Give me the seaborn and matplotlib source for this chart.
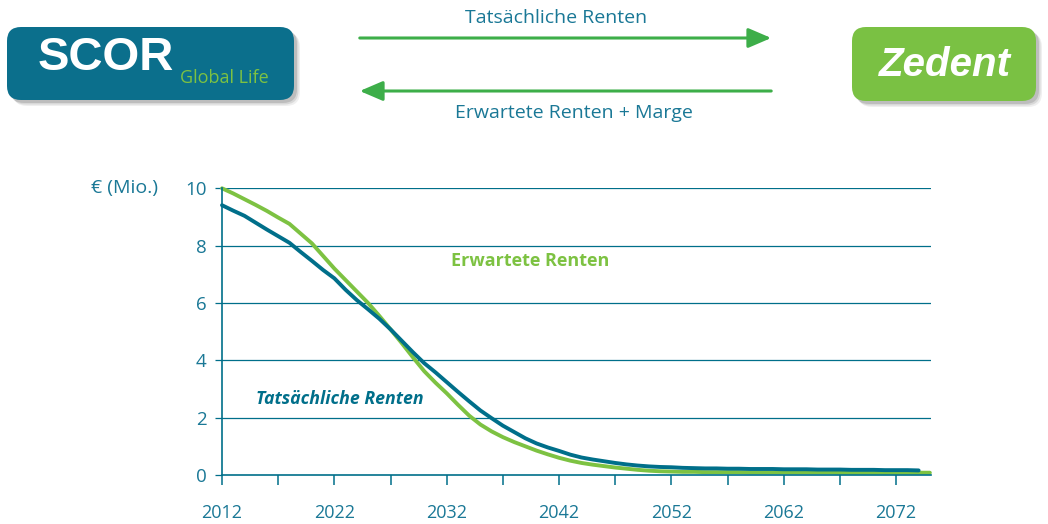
import numpy as np
import pandas as pd
import seaborn as sns
import matplotlib
matplotlib.use("Agg")
import matplotlib.pyplot as plt
from matplotlib.patches import FancyBboxPatch, FancyArrowPatch

# ---- data ----
years_expected = list(range(2012, 2076))
expected = [10.0, 9.82, 9.62, 9.42, 9.21, 8.98, 8.76, 8.42, 8.08, 7.64,
            7.2, 6.8, 6.4, 6.0, 5.55, 5.08, 4.6, 4.1, 3.62, 3.22,
            2.85, 2.45, 2.07, 1.76, 1.52, 1.32, 1.15, 1.0, 0.85, 0.72,
            0.6, 0.5, 0.42, 0.36, 0.31, 0.26, 0.22, 0.18, 0.15, 0.13,
            0.12, 0.11, 0.11, 0.10, 0.10, 0.10, 0.10, 0.09, 0.09, 0.09,
            0.09, 0.09, 0.09, 0.09, 0.09, 0.08, 0.08, 0.08, 0.08, 0.08,
            0.08, 0.08, 0.08, 0.08]
years_actual = list(range(2012, 2075))
actual = [9.41, 9.22, 9.04, 8.8, 8.56, 8.33, 8.1, 7.78, 7.47, 7.15,
          6.86, 6.46, 6.1, 5.78, 5.45, 5.08, 4.68, 4.28, 3.9, 3.58,
          3.24, 2.9, 2.57, 2.25, 1.98, 1.72, 1.5, 1.28, 1.1, 0.96,
          0.84, 0.71, 0.61, 0.54, 0.48, 0.42, 0.37, 0.33, 0.3, 0.28,
          0.27, 0.25, 0.24, 0.23, 0.23, 0.22, 0.22, 0.21, 0.21, 0.21,
          0.2, 0.2, 0.2, 0.19, 0.19, 0.19, 0.18, 0.18, 0.18, 0.17,
          0.17, 0.17, 0.16]
x_tick_years = list(range(2012, 2075, 5))
x_label_years = list(range(2012, 2075, 10))
y_ticks = [0, 2, 4, 6, 8, 10]

TEAL = "#006F8A"
TEXT = "#1A7896"
GREEN = "#7DC242"
ARROW = "#3DAE49"

sns.set_style("white")
plt.rcParams['font.family'] = ['Open Sans', 'DejaVu Sans']

fig = plt.figure(figsize=(10.48, 5.24), dpi=100)
W, H = 1048, 524
ax = fig.add_axes([222 / W, (H - 475) / H, (931 - 222) / W, (475 - 188.3) / H])

df_e = pd.DataFrame({"Jahr": years_expected, "Wert": expected})
df_a = pd.DataFrame({"Jahr": years_actual, "Wert": actual})
sns.lineplot(data=df_e, x="Jahr", y="Wert", ax=ax, color=GREEN, lw=2.8, clip_on=False)
sns.lineplot(data=df_a, x="Jahr", y="Wert", ax=ax, color=TEAL, lw=2.8, clip_on=False)

ax.set_xlim(2012, 2075.1)
ax.set_ylim(0, 10)
ax.set_xlabel("")
ax.set_ylabel("")
ax.set_yticks(y_ticks)
ax.set_yticklabels([str(v) for v in y_ticks])
ax.set_xticks(x_tick_years)
ax.set_xticklabels([str(y) if y in x_label_years else "" for y in x_tick_years])
for y in y_ticks[1:]:
    ax.axhline(y, color=TEAL, lw=0.9, zorder=0)
for s in ["top", "right"]:
    ax.spines[s].set_visible(False)
for s in ["left", "bottom"]:
    ax.spines[s].set_color(TEAL)
    ax.spines[s].set_linewidth(1.2)
ax.tick_params(axis="x", direction="out", length=7, width=1.1, color=TEAL,
               labelcolor=TEXT, labelsize=13, pad=14, bottom=True)
ax.tick_params(axis="y", direction="out", length=5, width=0.9, color=TEAL,
               labelcolor=TEXT, labelsize=13.5, pad=6, left=True)

ax.text(-0.09, 1.0, "€ (Mio.)", transform=ax.transAxes, ha="right", va="center",
        color=TEXT, fontsize=14)
ax.text(2032.4, 7.46, "Erwartete Renten", color=GREEN, fontsize=13, fontweight="bold",
        ha="left", va="center")
ax.text(2015.0, 2.65, "Tatsächliche Renten", color=TEAL, fontsize=12.8, fontweight="bold",
        fontstyle="italic", ha="left", va="center")

# ---- header diagram ----
hd = fig.add_axes([0, 0, 1, 1], zorder=-1)
hd.set_xlim(0, W)
hd.set_ylim(H, 0)
hd.axis("off")

def box(x0, y0, x1, y1, color):
    for k, a in [(6, 0.12), (4.5, 0.2), (3, 0.3)]:
        sh = FancyBboxPatch((x0 + k, y0 + k), x1 - x0, y1 - y0,
                            boxstyle="round,pad=0,rounding_size=14",
                            fc="#808080", ec="none", alpha=a)
        hd.add_patch(sh)
    b = FancyBboxPatch((x0, y0), x1 - x0, y1 - y0,
                       boxstyle="round,pad=0,rounding_size=14",
                       fc=color, ec="none")
    hd.add_patch(b)

box(7, 27, 294, 100, "#0B6F8C")
box(852, 27, 1036, 101, "#7AC143")
hd.text(38, 58, "SCOR", color="white", fontsize=34, fontweight="bold",
        family=["Liberation Sans", "DejaVu Sans"], ha="left", va="center")
hd.text(180, 78, "Global Life", color=GREEN, fontsize=13, ha="left", va="center")
hd.text(945, 65, "Zedent", color="white", fontsize=29, fontweight="bold",
        fontstyle="italic", family=["Liberation Sans", "DejaVu Sans"],
        ha="center", va="center")

hd.add_patch(FancyArrowPatch((357, 38), (774, 38), arrowstyle="-|>,head_length=14,head_width=6",
                             color=ARROW, lw=2.2, mutation_scale=1))
hd.add_patch(FancyArrowPatch((774, 91), (357, 91), arrowstyle="-|>,head_length=14,head_width=6",
                             color=ARROW, lw=2.2, mutation_scale=1))
hd.text(556, 18, "Tatsächliche Renten", color=TEXT, fontsize=14, ha="center", va="center")
hd.text(574, 113, "Erwartete Renten + Marge", color=TEXT, fontsize=14, ha="center", va="center")

fig.savefig("out.png", dpi=100, facecolor="white")
